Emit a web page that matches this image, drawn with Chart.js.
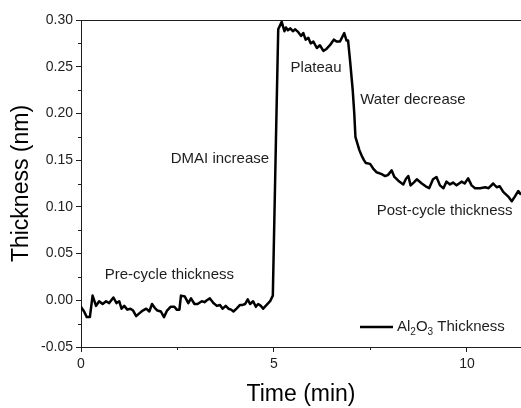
<!DOCTYPE html>
<html>
<head>
<meta charset="utf-8">
<script src="https://cdn.jsdelivr.net/npm/chart.js@4/dist/chart.umd.min.js"></script>
<style>
  html, body { margin: 0; padding: 0; background: #fff; }
  #wrap { width: 521px; height: 408px; position: relative; }
</style>
</head>
<body>
<div id="wrap"><canvas id="thk"></canvas></div>
<script>
// time (min) and Al2O3 thickness (nm)
var time = [
  0.00, 0.08, 0.15, 0.23, 0.30, 0.39, 0.47, 0.56, 0.65, 0.73, 0.84, 0.92, 0.99,
  1.05, 1.12, 1.20, 1.28, 1.35, 1.43, 1.51, 1.60, 1.69, 1.77, 1.84, 1.91, 1.98,
  2.07, 2.15, 2.23, 2.32, 2.42, 2.48, 2.55, 2.59, 2.69, 2.78, 2.85, 2.94, 3.02,
  3.13, 3.20, 3.26, 3.34, 3.43, 3.52, 3.60, 3.67, 3.75, 3.82, 3.89, 3.95, 4.03,
  4.12, 4.19, 4.25, 4.32, 4.38, 4.46, 4.53, 4.59, 4.66, 4.72, 4.81, 4.90, 4.97,
  5.05, 5.11, 5.20, 5.27, 5.31, 5.36, 5.42, 5.49, 5.55, 5.63, 5.70, 5.76, 5.82,
  5.89, 5.95, 6.02, 6.11, 6.19, 6.28, 6.36, 6.45, 6.50, 6.55, 6.62, 6.71, 6.82,
  6.88, 6.92, 6.97, 7.04, 7.08, 7.11, 7.16, 7.21, 7.27, 7.33, 7.38, 7.49, 7.57,
  7.66, 7.79, 7.88, 7.95, 8.05, 8.12, 8.22, 8.35, 8.42, 8.48, 8.54, 8.62, 8.70,
  8.83, 8.93, 9.02, 9.12, 9.21, 9.30, 9.39, 9.47, 9.56, 9.64, 9.73, 9.86, 9.94,
  10.03, 10.12, 10.21, 10.34, 10.47, 10.56, 10.68, 10.77, 10.85, 10.94, 11.07,
  11.16, 11.24, 11.33, 11.40
];
var thickness = [
  -0.007, -0.012, -0.018, -0.018, 0.005, -0.006, -0.001, -0.004, -0.001, -0.003, 0.003, -0.003, -0.001,
  -0.009, -0.006, -0.010, -0.009, -0.011, -0.017, -0.014, -0.011, -0.009, -0.012, -0.004, -0.008, -0.011,
  -0.012, -0.018, -0.011, -0.007, -0.007, -0.010, -0.010, 0.005, 0.004, -0.003, 0.002, -0.004, -0.004,
  -0.001, -0.002, 0.000, 0.002, -0.003, -0.006, -0.005, -0.009, -0.006, -0.009, -0.010, -0.012, -0.009,
  -0.005, -0.005, -0.004, 0.001, -0.004, -0.001, -0.007, -0.004, -0.006, -0.009, -0.005, -0.001, 0.005,
  0.170, 0.290, 0.298, 0.288, 0.292, 0.289, 0.291, 0.288, 0.290, 0.287, 0.283, 0.286, 0.279,
  0.281, 0.275, 0.277, 0.270, 0.273, 0.267, 0.269, 0.273, 0.276, 0.279, 0.277, 0.277, 0.286,
  0.278, 0.278, 0.257, 0.225, 0.200, 0.175, 0.168, 0.161, 0.155, 0.150, 0.147, 0.146, 0.141,
  0.137, 0.135, 0.133, 0.134, 0.139, 0.132, 0.128, 0.124, 0.130, 0.133, 0.123, 0.126, 0.1295,
  0.125, 0.122, 0.120, 0.1295, 0.132, 0.123, 0.120, 0.127, 0.124, 0.126, 0.123, 0.127, 0.125,
  0.1305, 0.123, 0.120, 0.120, 0.121, 0.120, 0.125, 0.121, 0.122, 0.116, 0.111,
  0.106, 0.111, 0.117, 0.113
];
var xMajor = [0, 5, 10];
var xMinor = [2.5, 7.5];
var yMinor = [-0.025, 0.025, 0.075, 0.125, 0.175, 0.225, 0.275];
var seriesName = ["Al", "2", "O", "3", " Thickness"]; // Al2O3 Thickness, digits are subscripts
var notes = [
  { text: "Pre-cycle thickness", t: 2.29, v: 0.027 },
  { text: "DMAI increase", t: 3.60, v: 0.151 },
  { text: "Plateau", t: 6.09, v: 0.249 },
  { text: "Water decrease", t: 8.60, v: 0.215 },
  { text: "Post-cycle thickness", t: 9.42, v: 0.096 }
];

var pts = time.map(function (t, i) { return { x: t, y: thickness[i] }; });
var ink = "#1e1e1e";
var fam = "'Liberation Sans', Arial, sans-serif";

var extras = {
  id: "extras",
  afterDraw: function (chart) {
    var ctx = chart.ctx, a = chart.chartArea;
    var xs = chart.scales.x, ys = chart.scales.y;
    ctx.save();
    ctx.strokeStyle = ink;
    ctx.lineWidth = 1;
    // top frame line
    ctx.beginPath();
    ctx.moveTo(a.left, a.top + 0.5);
    ctx.lineTo(a.right, a.top + 0.5);
    ctx.stroke();
    // minor ticks
    ctx.beginPath();
    yMinor.forEach(function (v) {
      var p = Math.round(ys.getPixelForValue(v)) + 0.5;
      ctx.moveTo(a.left - 3, p);
      ctx.lineTo(a.left, p);
    });
    xMinor.forEach(function (v) {
      var p = Math.round(xs.getPixelForValue(v)) + 0.5;
      ctx.moveTo(p, a.bottom);
      ctx.lineTo(p, a.bottom + 3);
    });
    ctx.stroke();
    // annotations
    ctx.fillStyle = ink;
    ctx.font = "15px " + fam;
    ctx.textAlign = "center";
    ctx.textBaseline = "middle";
    notes.forEach(function (n) {
      ctx.fillText(n.text, xs.getPixelForValue(n.t), ys.getPixelForValue(n.v));
    });
    // legend
    var lx = a.left + 279, ly = a.bottom - 20;
    ctx.strokeStyle = "#000";
    ctx.lineWidth = 2.5;
    ctx.beginPath();
    ctx.moveTo(lx, ly);
    ctx.lineTo(lx + 33, ly);
    ctx.stroke();
    ctx.textAlign = "left";
    var cx = lx + 37;
    seriesName.forEach(function (s, i) {
      var sub = (i === 1 || i === 3);
      ctx.font = (sub ? "10px " : "15px ") + fam;
      ctx.fillText(s, cx, sub ? ly + 5 : ly);
      cx += ctx.measureText(s).width;
    });
    ctx.restore();
  }
};

new Chart(document.getElementById("thk").getContext("2d"), {
  type: "line",
  data: {
    datasets: [{
      label: "Al2O3 Thickness",
      data: pts,
      borderColor: "#000",
      borderWidth: 2.5,
      borderJoinStyle: "round",
      pointRadius: 0,
      tension: 0,
      fill: false
    }]
  },
  options: {
    responsive: true,
    maintainAspectRatio: false,
    animation: false,
    layout: { padding: { top: 20, right: 0, left: 0, bottom: 0 } },
    plugins: { legend: { display: false }, tooltip: { enabled: false } },
    scales: {
      x: {
        type: "linear",
        min: 0,
        max: 11.4,
        afterFit: function (s) { s.height = 61; },
        afterBuildTicks: function (s) { s.ticks = xMajor.map(function (v) { return { value: v }; }); },
        grid: { drawOnChartArea: false, drawTicks: true, tickLength: 5, color: ink },
        border: { display: true, color: ink, width: 1 },
        ticks: { color: ink, font: { family: fam, size: 14 }, padding: 4, maxRotation: 0,
                 callback: function (v) { return String(v); } },
        title: { display: true, text: "Time (min)", color: "#000",
                 font: { family: fam, size: 23 }, padding: { top: 0, bottom: 0 } }
      },
      y: {
        min: -0.05,
        max: 0.30,
        afterFit: function (s) { s.width = 81; },
        grid: { drawOnChartArea: false, drawTicks: true, tickLength: 5, color: ink },
        border: { display: true, color: ink, width: 1 },
        ticks: { stepSize: 0.05, color: ink, font: { family: fam, size: 14 }, padding: 3,
                 callback: function (v) { return Math.abs(v) < 1e-9 ? "0.00" : v.toFixed(2); } },
        title: { display: true, text: "Thickness (nm)", color: "#000",
                 font: { family: fam, size: 23 }, padding: { top: 8, bottom: 0 } }
      }
    }
  },
  plugins: [extras]
});
</script>
</body>
</html>
